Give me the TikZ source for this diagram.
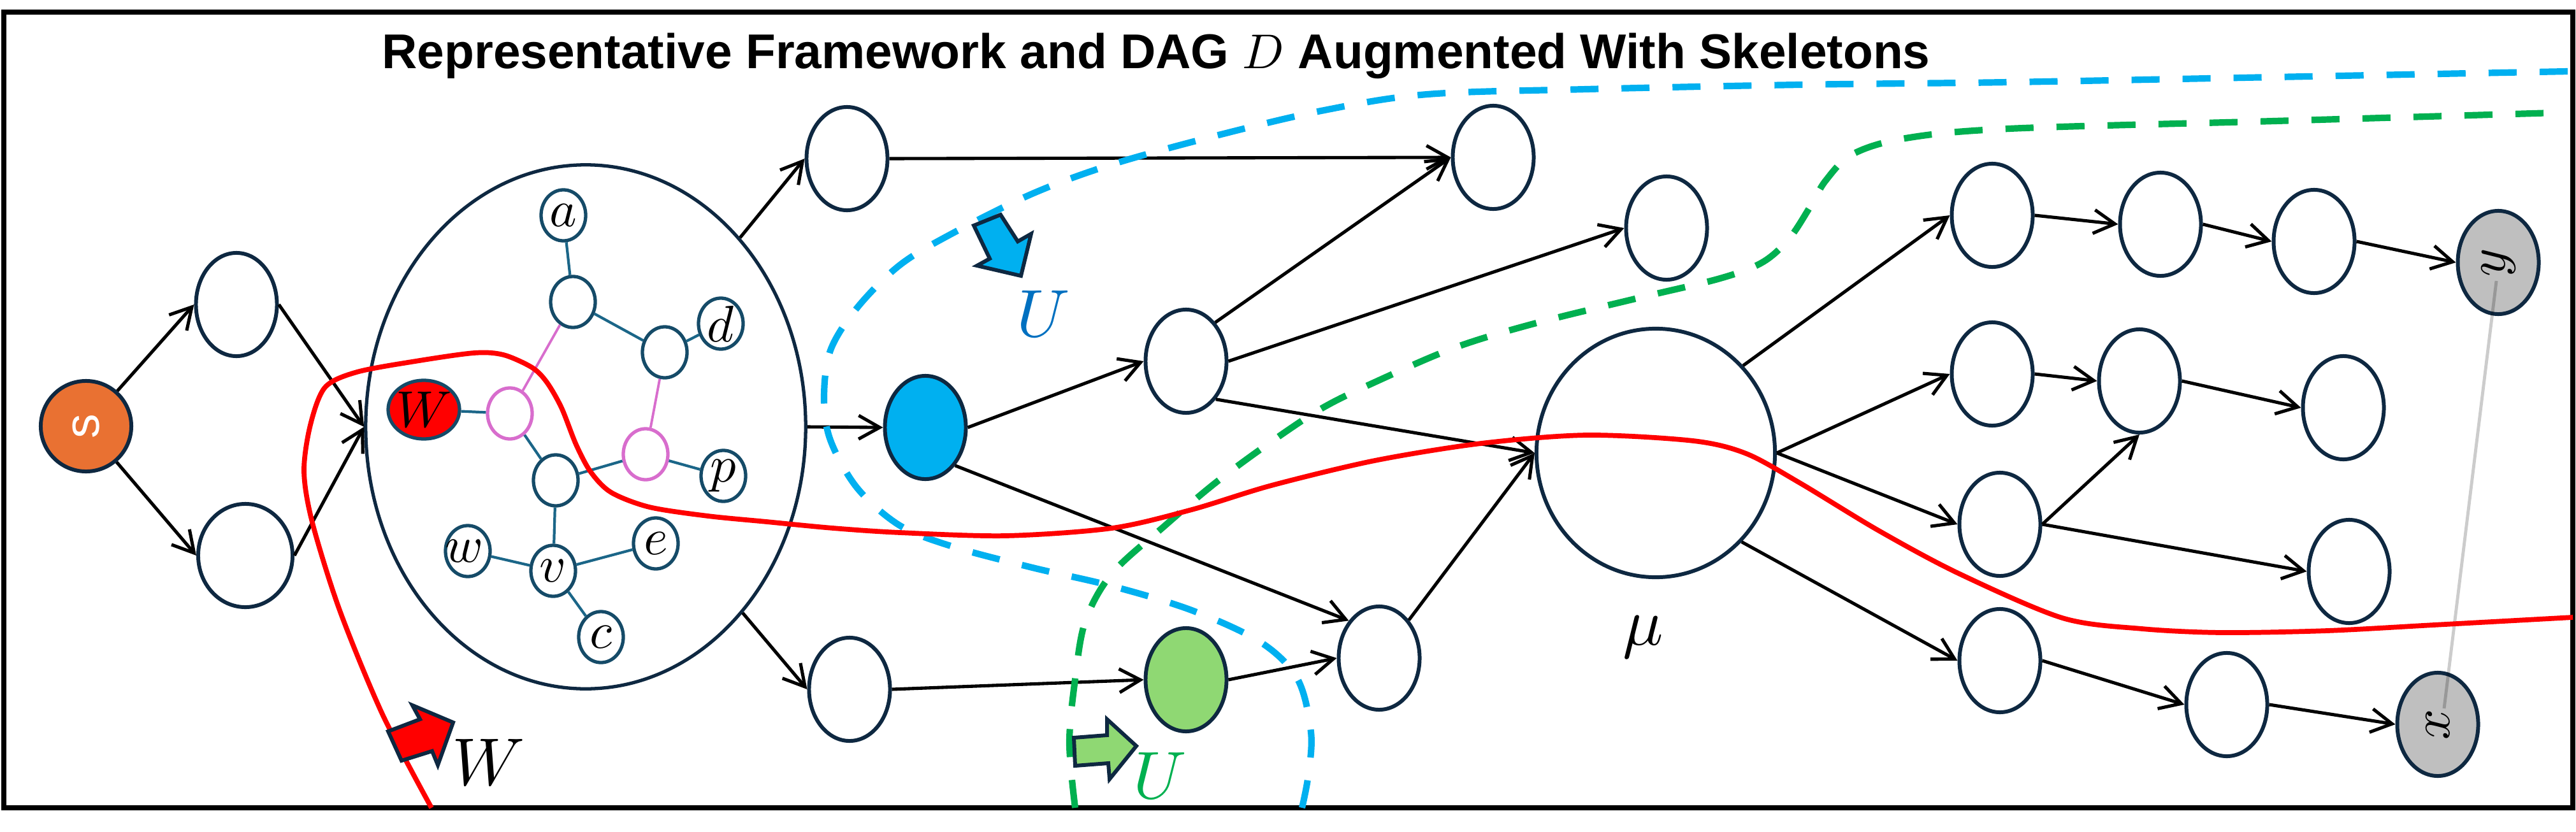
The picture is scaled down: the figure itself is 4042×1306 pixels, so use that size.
\documentclass[tikz,border=0pt]{standalone}
\usepackage{fontspec}
\newfontfamily\titlefont{Liberation Sans}
\DeclareFontFamily{OML}{cmm}{\skewchar\font127 }
\DeclareFontShape{OML}{cmm}{m}{it}{<->cmmi10}{}
\usetikzlibrary{shapes.geometric, arrows.meta, calc}
\definecolor{navy}{HTML}{0E2841}
\definecolor{skout}{HTML}{154B68}
\definecolor{skteal}{HTML}{1B6688}
\definecolor{pinkline}{HTML}{D86DCD}
\definecolor{sorange}{HTML}{E97132}
\definecolor{ublue}{HTML}{00B0F0}
\definecolor{ulabel}{HTML}{0070C0}
\definecolor{ugreen}{HTML}{00B050}
\definecolor{lgreen}{HTML}{8FD873}
\definecolor{grayfill}{HTML}{BFBFBF}
\definecolor{wred}{HTML}{FF0000}
\begin{document}
\begin{tikzpicture}[x=0.01cm, y=-0.01cm,
  dagnode/.style={ellipse, draw=navy, line width=1.7pt, minimum width=1.27cm, minimum height=1.62cm, inner sep=0pt, fill=white},
  sknode/.style={ellipse, draw=skout, line width=1.5pt, minimum width=0.70cm, minimum height=0.80cm, inner sep=0pt, fill=white},
  pknode/.style={sknode, draw=pinkline},
  sklab/.style={font=\fontsize{23}{23}\selectfont, inner sep=0pt},
  biglab/.style={font=\fontsize{30}{30}\selectfont, inner sep=0pt},
  dagedge/.style={line width=1.45pt, -{Straight Barb[length=3.3mm,width=3.7mm]}},
  skedge/.style={skteal, line width=1.2pt},
  pkedge/.style={pinkline, line width=1.1pt},
  marker/.style={draw=navy, line width=1.7pt, line join=miter},
  dashcurve/.style={line width=2.9pt, dash pattern=on 0.44cm off 0.36cm}
]
\useasboundingbox (0,0) rectangle (4042,1306);
\draw[line width=2.2pt] (6,19) rectangle (4037,1268);

% title
\node[anchor=base, font=\titlefont\bfseries\fontsize{21.8}{24}\selectfont, inner sep=0pt] (title) at (1814,107)
  {Representative Framework and DAG $D$ Augmented With Skeletons};

% left part
\node[circle, draw=navy, fill=sorange, line width=1.7pt, minimum size=1.42cm, inner sep=0pt,
  label={[text=white, font=\titlefont\fontsize{22}{22}\selectfont]center:\rotatebox{90}{s}}] (s) at (135,669) {};
\node[dagnode] (n1) at (371,478) {};
\node[dagnode, minimum width=1.48cm] (n2) at (385,872) {};
\node[ellipse, draw=navy, line width=1.5pt, minimum width=6.90cm, minimum height=8.22cm, inner sep=0pt] (big) at (919,670) {};

% skeleton
\node[sknode, label={[sklab]center:$a$}] (a) at (884,338) {};
\node[sknode] (ntop) at (899,474) {};
\node[sknode, label={[sklab]center:$d$}] (d) at (1131,508) {};
\node[sknode] (nr) at (1043,553) {};
\node[sknode, fill=wred, minimum width=1.12cm, minimum height=0.92cm, label={[sklab]center:$W$}] (W) at (665,643) {};
\node[pknode] (pk1) at (800,649) {};
\node[pknode] (pk2) at (1013,713) {};
\node[sknode, label={[sklab]center:$p$}] (p) at (1135,747) {};
\node[sknode] (nm) at (872,754) {};
\node[sknode, label={[sklab, xshift=-0.05cm]center:$w$}] (w) at (734,865) {};
\node[sknode, label={[sklab]center:$v$}] (v) at (868,896) {};
\node[sknode, label={[sklab]center:$e$}] (e) at (1029,853) {};
\node[sknode, label={[sklab]center:$c$}] (c) at (943,1000) {};

\draw[skedge] (a) -- (ntop);
\draw[skedge] (ntop) -- (nr);
\draw[skedge] (nr) -- (d);
\draw[pkedge] (ntop) -- (pk1);
\draw[pkedge] (nr) -- (pk2);
\draw[skedge] (W) -- (pk1);
\draw[skedge] (pk1) -- (nm);
\draw[skedge] (nm) -- (pk2);
\draw[skedge] (pk2) -- (p);
\draw[skedge] (nm) -- (v);
\draw[skedge] (v) -- (w);
\draw[skedge] (v) -- (e);
\draw[skedge] (v) -- (c);

% middle and right DAG
\node[dagnode] (u1) at (1329,249) {};
\node[dagnode] (l1) at (1333,1082) {};
\node[dagnode, fill=ublue] (blue) at (1452,671) {};
\node[dagnode] (m1) at (1861,567) {};
\node[dagnode, fill=lgreen] (g) at (1861,1067) {};
\node[dagnode] (m2) at (2164,1033) {};
\node[dagnode] (t1) at (2343,247) {};
\node[dagnode] (t2) at (2615,358) {};
\node[ellipse, draw=navy, line width=1.7pt, minimum width=3.74cm, minimum height=3.90cm, inner sep=0pt, fill=white] (mu) at (2598,711) {};
\node[dagnode] (r1) at (3126,338) {};
\node[dagnode] (r2) at (3390,352) {};
\node[dagnode] (r3) at (3631,379) {};
\node[dagnode, fill=grayfill, label={[font=\fontsize{24}{24}\selectfont]center:\rotatebox{90}{$y$}}] (y) at (3920,412) {};
\node[dagnode] (q1) at (3126,587) {};
\node[dagnode] (q2) at (3357,598) {};
\node[dagnode] (q3) at (3677,640) {};
\node[dagnode] (k1) at (3138,823) {};
\node[dagnode] (k3) at (3686,897) {};
\node[dagnode] (b1) at (3138,1037) {};
\node[dagnode] (b2) at (3494,1106) {};
\node[dagnode, fill=grayfill, label={[font=\fontsize{24}{24}\selectfont]center:\rotatebox{90}{$x$}}] (x) at (3825,1137) {};

% edges
\draw[dagedge] (s) -- (n1.west);
\draw[dagedge] (s) -- (n2.west);
\draw[dagedge] (n1.east) -- (big.west);
\draw[dagedge] (n2.east) -- (big.west);
\draw[dagedge] (big) -- (u1.west);
\draw[dagedge] (big) -- (l1.west);
\draw[dagedge] (big.east) -- (blue.west);
\draw[dagedge] (u1.east) -- (t1.west);
\draw[dagedge] (blue.east) -- (m1.west);
\draw[dagedge] (blue.-52) -- (m2.129);
\draw[dagedge] (m1.53) -- (t1.west);
\draw[dagedge] (m1.east) -- (t2.west);
\draw[dagedge] (m1.-52) -- (mu.west);
\draw[dagedge] (l1.east) -- (g.west);
\draw[dagedge] (g.east) -- (m2.west);
\draw[dagedge] (m2.52) -- (mu.west);
\draw[dagedge] (mu.45) -- (r1.west);
\draw[dagedge] (mu.east) -- (q1.west);
\draw[dagedge] (mu.east) -- (k1.west);
\draw[dagedge] (mu.-46) -- (b1.west);
\draw[dagedge] (r1.east) -- (r2.west);
\draw[dagedge] (r2.east) -- (r3.west);
\draw[dagedge] (r3.east) -- (y.west);
\draw[dagedge] (q1.east) -- (q2.west);
\draw[dagedge] (q2.east) -- (q3.west);
\draw[dagedge] (k1.east) -- (q2.south);
\draw[dagedge] (k1.east) -- (k3.west);
\draw[dagedge] (b1.east) -- (b2.west);
\draw[dagedge] (b2.east) -- (x.west);

\draw[black, opacity=0.2, line width=1.4pt] ($(y.center)+(-3,29)$) -- ($(x.center)+(10,-25)$);

% labels
\node[biglab] (mulab) at (2578,1000) {$\mu$};
\node[biglab] (wlab) at (767,1196) {$W$};
\node[biglab, text=ulabel] (ublab) at (1637,492) {$U$};
\node[biglab, text=ugreen] (uglab) at (1820,1217) {$U$};

% curves
\draw[dashcurve, ublue] plot[smooth, tension=0.55] coordinates {
 (2043,1268) (2053,1216) (2057,1149) (2036,1066) (1978,1008) (1870,958) (1745,920) (1620,891)
 (1495,858) (1412,825) (1345,766) (1303,691) (1293,625) (1303,550) (1345,483) (1412,416)
 (1495,366) (1620,304) (1745,258) (1912,212) (2078,173) (2240,148) (2490,140) (2823,133)
 (3152,129) (3569,121) (4030,112)};
\draw[dashcurve, ugreen] plot[smooth, tension=0.55] coordinates {
 (1687,1268) (1678,1166) (1687,1066) (1703,975) (1745,900) (1828,825) (1907,758) (1991,696)
 (2074,641) (2157,600) (2282,546) (2407,508) (2574,467) (2699,437) (2765,412) (2807,375)
 (2840,325) (2865,283) (2907,242) (2990,217) (3152,202) (3569,190) (4010,177)};
\draw[wred, line width=2.2pt] plot[smooth, tension=0.5] coordinates {
 (677,1268) (600,1121) (533,958) (490,820) (477,740) (487,667) (510,608) (560,584) (652,567)
 (744,554) (790,557) (835,577) (858,600) (881,640) (904,698) (927,741) (959,773) (1019,796)
 (1111,810) (1203,819) (1307,829) (1412,836) (1578,841) (1745,829) (1870,800) (1995,762)
 (2157,723) (2324,696) (2490,683) (2657,692) (2740,712) (2824,758) (2948,833) (3073,900)
 (3236,970) (3361,987) (3486,993) (3652,990) (3819,981) (4037,969)};

% block arrow markers
\draw[marker, fill=wred] (609,1148) -- (659,1129) -- (647,1107) -- (711,1134) -- (687,1201) -- (678,1179) -- (630,1194) -- cycle;
\draw[marker, fill=ublue] (1528,354) -- (1570,337) -- (1597,379) -- (1618,367) -- (1602,433) -- (1533,417) -- (1553,406) -- cycle;
\draw[marker, fill=lgreen] (1685,1158) -- (1737,1154) -- (1737,1129) -- (1783,1171) -- (1741,1223) -- (1739,1198) -- (1687,1202) -- cycle;
\end{tikzpicture}
\end{document}
